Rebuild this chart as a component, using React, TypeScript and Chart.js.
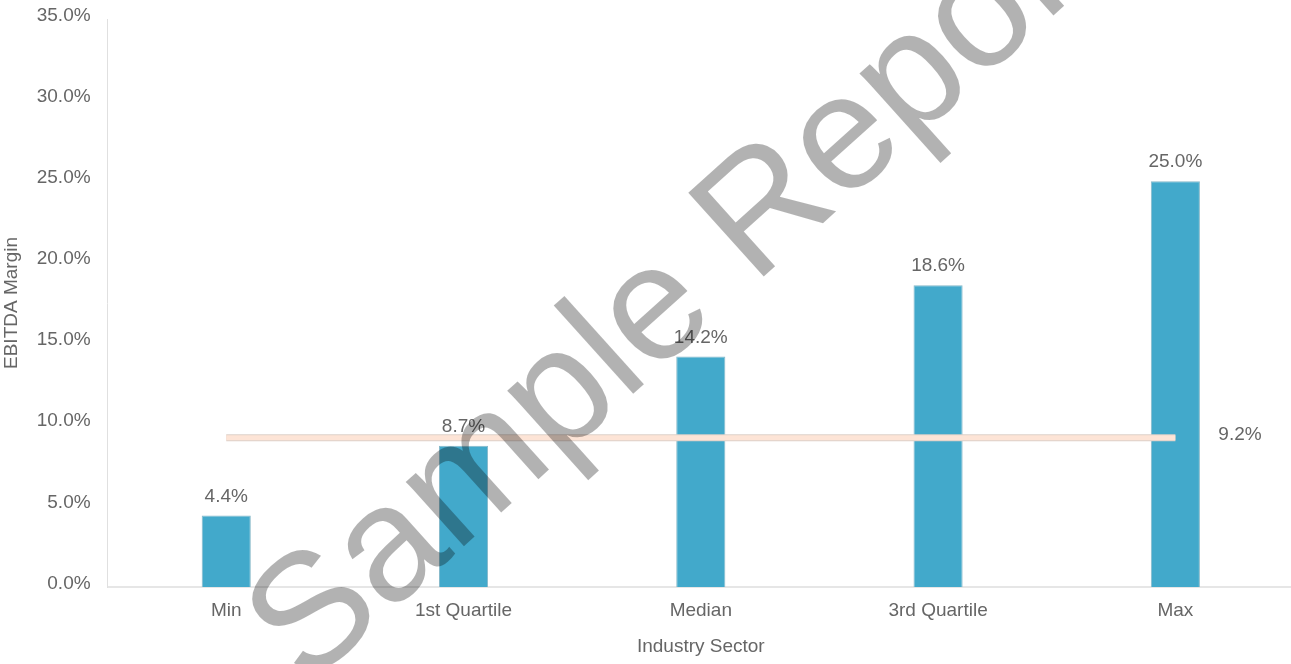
import React, { useEffect, useRef } from "react";
import { Chart, registerables } from "chart.js";

Chart.register(...registerables);

const categories = ["Min", "1st Quartile", "Median", "3rd Quartile", "Max"];
const ebitdaMargins = [4.4, 8.7, 14.2, 18.6, 25.0];
const benchmarkLine = [9.2, 9.2, 9.2, 9.2, 9.2];
const benchmarkLabel = "9.2%";
const yTickValues = [0, 5, 10, 15, 20, 25, 30, 35];
const yAxisTitle = "EBITDA Margin";
const xAxisTitle = "Industry Sector";
const watermarkText = "Sample Report";

const FONT = "'Liberation Sans', Arial, Helvetica, sans-serif";
const TEXT = "#666666";

export default function App() {
  const chartRef = useRef<HTMLCanvasElement | null>(null);
  const wmRef = useRef<HTMLCanvasElement | null>(null);

  useEffect(() => {
    if (!chartRef.current) return;
    Chart.defaults.font.family = FONT;

    const labelPlugin = {
      id: "valueLabels",
      afterDatasetsDraw(chart: any) {
        const ctx = chart.ctx;
        ctx.save();
        ctx.font = `19px ${FONT}`;
        ctx.fillStyle = TEXT;
        const barMeta = chart.getDatasetMeta(2);
        barMeta.data.forEach((el: any, i: number) => {
          ctx.textAlign = "center";
          ctx.textBaseline = "alphabetic";
          ctx.fillText(ebitdaMargins[i].toFixed(1) + "%", el.x, el.y - 14);
        });
        const lineMeta = chart.getDatasetMeta(1);
        const last = lineMeta.data[lineMeta.data.length - 1];
        ctx.textAlign = "left";
        ctx.textBaseline = "alphabetic";
        ctx.fillText(benchmarkLabel, last.x + 43, last.y + 2.5);
        ctx.restore();
      },
    };

    const chart = new Chart(chartRef.current, {
      type: "bar",
      data: {
        labels: categories,
        datasets: [
          {
            type: "line",
            data: benchmarkLine,
            borderColor: "#ddd0c8",
            borderWidth: 7,
            pointRadius: 0,
            tension: 0,
            order: 1,
          } as any,
          {
            type: "line",
            data: benchmarkLine,
            borderColor: "#fde4d6",
            borderWidth: 5,
            pointRadius: 0,
            tension: 0,
            order: 0,
          } as any,
          {
            type: "bar",
            data: ebitdaMargins,
            backgroundColor: "#42a9cb",
            borderColor: "#86b8c9",
            borderWidth: 1,
            barPercentage: 0.207,
            categoryPercentage: 1,
            order: 2,
          },
        ],
      },
      options: {
        responsive: false,
        animation: false,
        devicePixelRatio: 1,
        layout: { padding: { top: 19, left: 0, right: 0, bottom: 0 } },
        plugins: {
          legend: { display: false },
          tooltip: { enabled: false },
        },
        scales: {
          x: {
            grid: { display: false, drawTicks: false },
            border: { display: true, color: "#e6e6e6", width: 2 },
            ticks: { color: TEXT, font: { family: FONT, size: 19 }, padding: 12.6 },
            title: {
              display: true,
              text: xAxisTitle,
              color: TEXT,
              font: { family: FONT, size: 19 },
              padding: { top: 0, bottom: 5.6 },
            },
            afterFit: (s: any) => {
              s.height = 77;
              s.paddingLeft = 0;
              s.paddingRight = 0;
            },
          },
          y: {
            min: 0,
            max: 35,
            grid: { display: false, drawTicks: false },
            border: { display: true, color: "#e0e0e0", width: 1 },
            afterBuildTicks: (s: any) => {
              s.ticks = yTickValues.map((v) => ({ value: v }));
            },
            ticks: {
              color: TEXT,
              font: { family: FONT, size: 19 },
              padding: 17,
              labelOffset: -3.5,
              callback: (v: any) => Number(v).toFixed(1) + "%",
            },
            title: {
              display: true,
              text: yAxisTitle,
              color: TEXT,
              font: { family: FONT, size: 19 },
              padding: { top: 0, bottom: 0 },
            },
            afterFit: (s: any) => {
              s.width = 107.6;
              s.paddingTop = 0;
              s.paddingBottom = 0;
            },
          },
        },
      } as any,
      plugins: [labelPlugin],
    });

    // Watermark overlay
    const wm = wmRef.current;
    if (wm) {
      const ctx = wm.getContext("2d");
      if (ctx) {
        ctx.clearRect(0, 0, wm.width, wm.height);
        ctx.save();
        ctx.translate(713, 322);
        ctx.rotate((-42 * Math.PI) / 180);
        ctx.font = `164px ${FONT}`;
        ctx.fillStyle = "rgba(0,0,0,0.3)";
        ctx.textAlign = "center";
        ctx.textBaseline = "alphabetic";
        ctx.fillText(watermarkText, 0, 0);
        ctx.restore();
      }
    }

    return () => {
      chart.destroy();
    };
  }, []);

  return (
    <div
      style={{
        position: "absolute",
        left: 0,
        top: 0,
        width: 1291,
        height: 664,
        overflow: "hidden",
        background: "#ffffff",
      }}
    >
      <canvas
        ref={chartRef}
        width={1294}
        height={664}
        style={{ position: "absolute", left: 0, top: 0, width: 1294, height: 664 }}
      />
      <canvas
        ref={wmRef}
        width={1291}
        height={664}
        style={{ position: "absolute", left: 0, top: 0, width: 1291, height: 664, pointerEvents: "none" }}
      />
    </div>
  );
}
